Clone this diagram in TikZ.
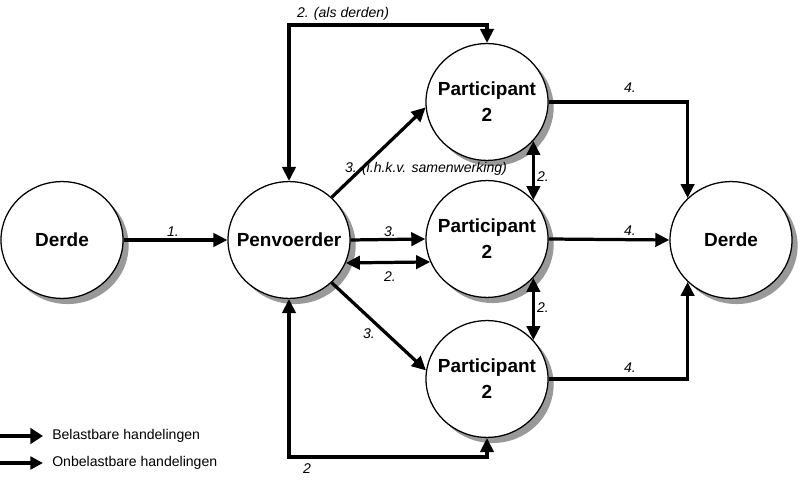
\documentclass[tikz,border=0pt]{standalone}
\usepackage{fontspec}
\setmainfont{Liberation Sans}
\usetikzlibrary{arrows.meta, shadows, shapes.geometric}

\begin{document}
\begin{tikzpicture}[line cap=butt,line join=miter,x=0.025cm,y=-0.025cm,
	>={Triangle[length=10pt,width=9.5pt]},
	party/.style={ellipse,draw=black,line width=0.9pt,fill=white,minimum width=3.05cm,minimum height=2.92cm,
		inner xsep=-9pt,inner ysep=0pt,align=center,font=\fontsize{13.5}{18.5}\selectfont\bfseries,
		drop shadow={shadow xshift=4pt,shadow yshift=-4pt,fill=black!40,opacity=1}},
	flow/.style={line width=2.3pt},
	lbl/.style={font=\fontsize{10}{12}\selectfont\itshape,inner sep=1pt},
	legtxt/.style={font=\fontsize{10}{12}\selectfont,anchor=west,inner sep=0pt}]
		\useasboundingbox (0,0) rectangle (800,490);
		% partijen
		\node[party] (derdeL) at (62,240) {Derde};
		\node[party] (penv) at (289,240) {Penvoerder};
		\node[party] (partA) at (487,102) {Participant\\2};
		\node[party] (partB) at (487,239) {Participant\\2};
		\node[party] (partC) at (487,379) {Participant\\2};
		\node[party] (derdeR) at (731,240) {Derde};
		\coordinate (topbend) at (400,25);
		\coordinate (botbend) at (400,457);
		% handelingen
		\draw[flow,->] (derdeL) -- (penv);
		\draw[flow,<->] (penv.north) |- (topbend) -| (partA.north);
		\draw[flow,<->] (penv.south) |- (botbend) -| (partC.south);
		\draw[flow,->] (penv.45) -- (partA.185);
		\draw[flow,->] (penv.east) -- (partB.west);
		\draw[flow,<->] (penv.-22) -- (partB.-158);
		\draw[flow,->] (penv.-45) -- (partC.172);
		\draw[flow,<->] (partA.-40) -- (partB.40);
		\draw[flow,<->] (partB.-40) -- (partC.40);
		\draw[flow,->] (partA.east) -| (derdeR.136);
		\draw[flow,->] (partB.east) -- (derdeR.west);
		\draw[flow,->] (partC.east) -| (derdeR.-136);
		% labels
		\node[lbl] (l1) at (173,232) {1.};
		\node[lbl] (l2top) at (343,14) {2. (als derden)};
		\node[lbl] (l3a) at (426,169) {3. (i.h.k.v. samenwerking)};
		\node[lbl] (l3b) at (390,232) {3.};
		\node[lbl] (l2b) at (390,277) {2.};
		\node[lbl] (l3c) at (369,334) {3.};
		\node[lbl] (l2ab) at (543,177) {2.};
		\node[lbl] (l2bc) at (543,308) {2.};
		\node[lbl] (l4a) at (630,88) {4.};
		\node[lbl] (l4b) at (630,231) {4.};
		\node[lbl] (l4c) at (630,368) {4.};
		\node[lbl] (l2bot) at (307,469) {2};
		% legenda
		\coordinate (legA0) at (0,436);
		\coordinate (legA1) at (43,436);
		\coordinate (legB0) at (0,463);
		\coordinate (legB1) at (43,463);
		\draw[line width=3pt,-{Triangle[length=9pt,width=11pt]}] (legA0) -- (legA1);
		\draw[line width=2.3pt,-{Triangle[length=9pt,width=9pt]}] (legB0) -- (legB1);
		\node[legtxt] (legAtxt) at (52,436) {Belastbare handelingen};
		\node[legtxt] (legBtxt) at (52,463) {Onbelastbare handelingen};
	\end{tikzpicture}
\end{document}
